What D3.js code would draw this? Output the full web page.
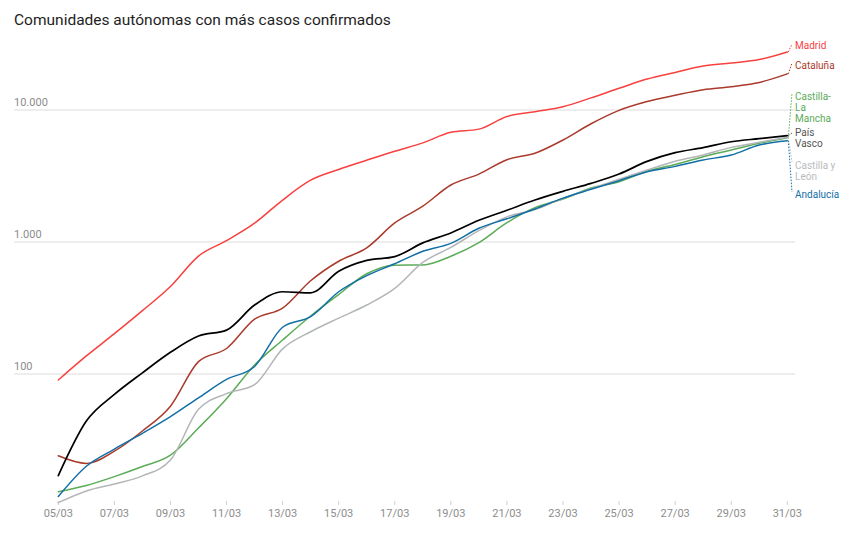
<!DOCTYPE html>
<html>
<head>
<meta charset="utf-8">
<script src="https://cdn.jsdelivr.net/npm/d3@7/dist/d3.min.js"></script>
<style>
  html, body { margin: 0; padding: 0; background: #fff; }
  svg { display: block; font-family: Roboto, "Noto Sans", sans-serif; }
</style>
</head>
<body>
<svg id="chart" width="855" height="537"></svg>
<script>
// ---------- DATA ----------
const dates = ["05/03","06/03","07/03","08/03","09/03","10/03","11/03","12/03","13/03","14/03","15/03","16/03","17/03","18/03","19/03","20/03","21/03","22/03","23/03","24/03","25/03","26/03","27/03","28/03","29/03","30/03","31/03"];
const xTickLabels = ["05/03","07/03","09/03","11/03","13/03","15/03","17/03","19/03","21/03","23/03","25/03","27/03","29/03","31/03"];
const yTickValues = [100, 1000, 10000];
const yTickLabels = ["100", "1.000", "10.000"];

const madrid    = [90,137,202,302,460,782,1024,1388,2078,2940,3544,4165,4871,5637,6777,7165,8921,9702,10575,12352,14597,17166,19243,21520,22677,24090,27509];
const cataluna  = [24,21,26,37,57,124,156,260,316,509,715,903,1394,1866,2702,3270,4203,4704,5925,7864,9937,11592,12940,14263,15026,16157,18773];
const paisVasco = [17,44,70,102,146,194,215,333,420,412,600,725,775,985,1170,1460,1740,2080,2420,2780,3270,4080,4750,5190,5750,6070,6390];
const castillaLaMancha = [12.8,14.3,16.7,19.9,24.3,39,65,117,181,275,400,575,668,670,780,990,1400,1820,2117,2564,2864,3430,3870,4430,4980,5600,6170];
const castillaLeon = [10.6,13,14.7,16.9,22.3,54,71,83,155,209,265,333,445,700,910,1218,1550,1760,2142,2535,2985,3510,4085,4560,5210,5690,6210];
const andalucia = [11.8,20,27,35.5,47.5,66,91,114,226,272,420,557,684,850,977,1270,1500,1780,2150,2507,2915,3410,3740,4180,4560,5430,5850];

const seriesNames = ["Madrid","Cataluña","Castilla-La Mancha","Castilla y León","Andalucía","País Vasco"];
const seriesValues = [madrid, cataluna, castillaLaMancha, castillaLeon, andalucia, paisVasco];

// ---------- STYLE / LAYOUT ----------
const lineColors = {"Madrid":"#f7413f","Cataluña":"#aa3a2b","Castilla-La Mancha":"#5bab57","Castilla y León":"#b3b6b8","Andalucía":"#126fa6","País Vasco":"#000000"};
const labelColors = {"Madrid":"#f7413f","Cataluña":"#aa3a2b","Castilla-La Mancha":"#5bab57","Castilla y León":"#b9bcbe","Andalucía":"#126fa6","País Vasco":"#555555"};
const labelLines = {"Madrid":["Madrid"],"Cataluña":["Cataluña"],"Castilla-La Mancha":["Castilla-","La","Mancha"],"País Vasco":["País","Vasco"],"Castilla y León":["Castilla y","León"],"Andalucía":["Andalucía"]};
// label first-line centre (px) and leader end y
const labelLayout = {"Madrid":{y:45,ly:44},"Cataluña":{y:65,ly:63},"Castilla-La Mancha":{y:96,ly:93},"País Vasco":{y:132,ly:133},"Castilla y León":{y:165,ly:162},"Andalucía":{y:194,ly:192}};

const svg = d3.select("#chart");
const x = d3.scaleLinear().domain([0, dates.length - 1]).range([58.3, 787.3]);
const y = d3.scaleLog().domain([10, 100000]).range([506, -22]);

// title
svg.append("text").attr("x", 14).attr("y", 25)
  .attr("font-size", 15.5).attr("font-weight", 400).attr("fill", "#1e1e1e")
  .text("Comunidades autónomas con más casos confirmados");

// gridlines + y labels
const yg = svg.append("g");
yTickValues.forEach((v, i) => {
  yg.append("line").attr("x1", 14).attr("x2", 795).attr("y1", y(v)).attr("y2", y(v))
    .attr("stroke", "#dcdcdc").attr("stroke-width", 1);
  yg.append("text").attr("x", 14).attr("y", y(v) - 4).attr("font-size", 11).attr("fill", "#8c8c8c")
    .text(yTickLabels[i]);
});

// x axis
const xg = svg.append("g");
xTickLabels.forEach(lbl => {
  const xi = x(dates.indexOf(lbl));
  xg.append("line").attr("x1", xi).attr("x2", xi).attr("y1", 501).attr("y2", 505)
    .attr("stroke", "#cfcfcf").attr("stroke-width", 1);
  xg.append("text").attr("x", xi).attr("y", 517).attr("text-anchor", "middle")
    .attr("font-size", 11).attr("fill", "#8c8c8c").text(lbl);
});

// lines
const line = d3.line().x((d, i) => x(i)).y(d => y(d)).curve(d3.curveMonotoneX);
const lg = svg.append("g");
seriesNames.forEach((name, k) => {
  lg.append("path").datum(seriesValues[k]).attr("d", line)
    .attr("fill", "none").attr("stroke", lineColors[name])
    .attr("stroke-width", name === "País Vasco" ? 1.7 : 1.5)
    .attr("stroke-linejoin", "round").attr("stroke-linecap", "round");
});

// labels + leaders
const labG = svg.append("g");
const lastIdx = dates.length - 1;
seriesNames.forEach((name, k) => {
  const vals = seriesValues[k];
  const ex = x(lastIdx), ey = y(vals[lastIdx]);
  const L = labelLayout[name];
  labG.append("line").attr("x1", ex + 1).attr("y1", ey).attr("x2", 792).attr("y2", L.ly)
    .attr("stroke", labelColors[name]).attr("stroke-width", 1).attr("stroke-dasharray", "1.5,1.5");
  const t = labG.append("text").attr("x", 795).attr("y", L.y + 3.5)
    .attr("font-size", 10).attr("fill", labelColors[name]);
  labelLines[name].forEach((s, j) => {
    t.append("tspan").attr("x", 795).attr("dy", j === 0 ? 0 : 11).text(s);
  });
});
</script>
</body>
</html>
